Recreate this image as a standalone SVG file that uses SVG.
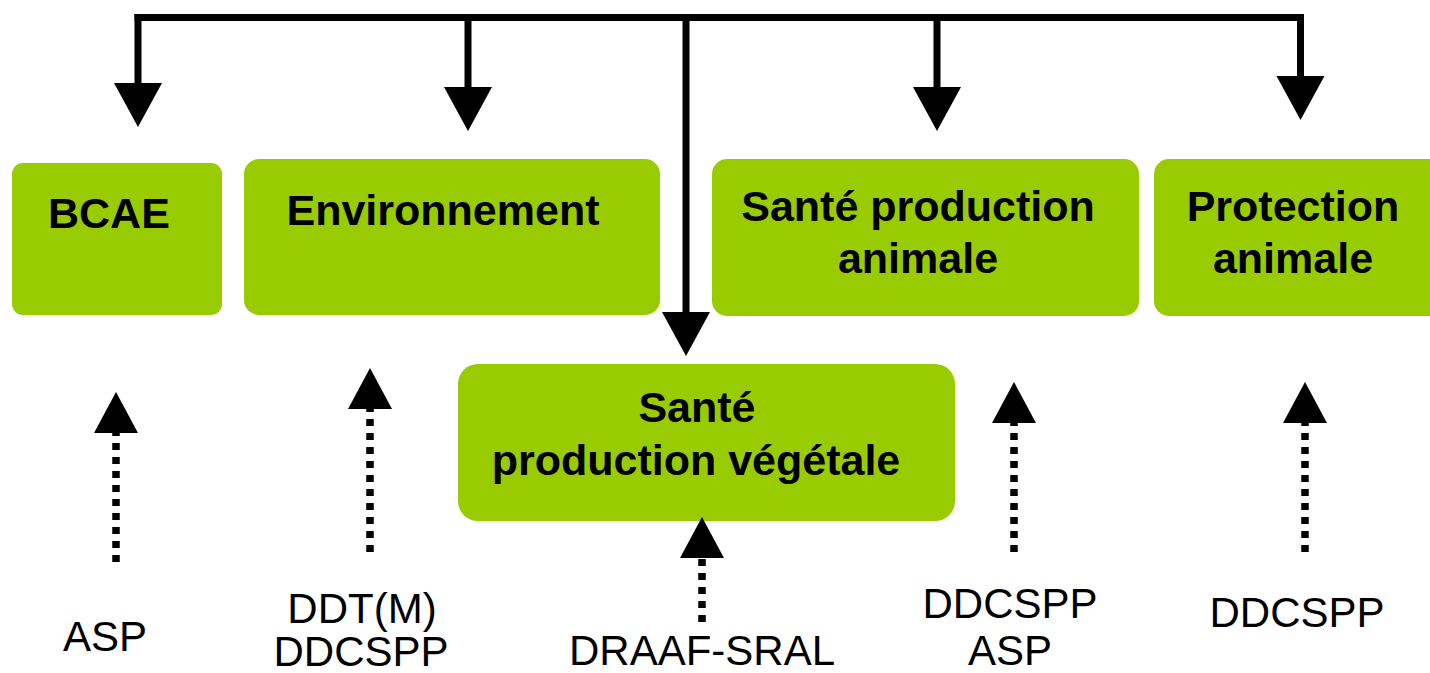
<svg xmlns="http://www.w3.org/2000/svg" width="1430" height="673" viewBox="0 0 1430 673">
<style>
.box{fill:#99cc00}
.bt{font-family:"Liberation Sans",Arial,sans-serif;font-weight:bold;font-size:43px;fill:#000}
.rt{font-family:"Liberation Sans",Arial,sans-serif;font-size:42px;fill:#000}
.solid{stroke:#000;stroke-width:7;fill:none}
.dot{stroke:#000;stroke-width:7.5;stroke-dasharray:7 7;fill:none}
</style>
<defs>
<marker id="hd" markerUnits="userSpaceOnUse" markerWidth="44" markerHeight="48" viewBox="0 -24 44 48" refX="0" refY="0" orient="auto" overflow="visible">
<path d="M0,-24 L44,0 L0,24 Z" fill="#000"/>
</marker>
<marker id="hu" markerUnits="userSpaceOnUse" markerWidth="41" markerHeight="44" viewBox="0 -22 41 44" refX="0" refY="0" orient="auto" overflow="visible">
<path d="M0,-22 L41,0 L0,22 Z" fill="#000"/>
</marker>
</defs>
<rect width="1430" height="673" fill="#fff"/>
<g id="bcae"><rect class="box" x="12" y="163" width="210" height="152" rx="11"/><text class="bt" x="48" y="228">BCAE</text></g>
<g id="environnement"><rect class="box" x="244" y="159" width="416" height="156" rx="15"/><text class="bt" x="443" y="225" text-anchor="middle">Environnement</text></g>
<g id="sante-animale"><rect class="box" x="712" y="159" width="427" height="157" rx="15"/><text class="bt" text-anchor="middle"><tspan x="918" y="221">Santé production</tspan><tspan x="918" y="273">animale</tspan></text></g>
<g id="protection-animale"><rect class="box" x="1154" y="159" width="290" height="157" rx="15"/><text class="bt" text-anchor="middle"><tspan x="1293" y="221">Protection</tspan><tspan x="1293" y="273">animale</tspan></text></g>
<g id="sante-vegetale"><rect class="box" x="458" y="364" width="497" height="157" rx="20"/><text class="bt" text-anchor="middle"><tspan x="697" y="422">Santé</tspan><tspan x="696" y="475">production végétale</tspan></text></g>
<g id="src-asp"><text class="rt" x="105" y="651" text-anchor="middle">ASP</text></g>
<g id="src-ddt"><text class="rt" text-anchor="middle"><tspan x="362" y="623">DDT(M)</tspan><tspan x="361" y="666">DDCSPP</tspan></text></g>
<g id="src-draaf"><text class="rt" x="702" y="665" text-anchor="middle">DRAAF-SRAL</text></g>
<g id="src-ddcspp-asp"><text class="rt" text-anchor="middle"><tspan x="1010" y="618">DDCSPP</tspan><tspan x="1010" y="665">ASP</tspan></text></g>
<g id="src-ddcspp"><text class="rt" x="1297" y="627" text-anchor="middle">DDCSPP</text></g>
<g id="connectors">
<path class="solid" d="M134.5,17.5 H1304"/>
<path class="solid" d="M138,14 V83" marker-end="url(#hd)"/>
<path class="solid" d="M468,14 V87" marker-end="url(#hd)"/>
<path class="solid" d="M686,14 V312" marker-end="url(#hd)"/>
<path class="solid" d="M937,14 V87" marker-end="url(#hd)"/>
<path class="solid" d="M1300.5,14 V76" marker-end="url(#hd)"/>
<path class="dot" d="M116,562 V433" marker-end="url(#hu)"/>
<path class="dot" d="M370,552 V409" marker-end="url(#hu)"/>
<path class="dot" d="M702,622 V558" marker-end="url(#hu)"/>
<path class="dot" d="M1014,552 V423" marker-end="url(#hu)"/>
<path class="dot" d="M1305,552 V423" marker-end="url(#hu)"/>
</g>
</svg>
